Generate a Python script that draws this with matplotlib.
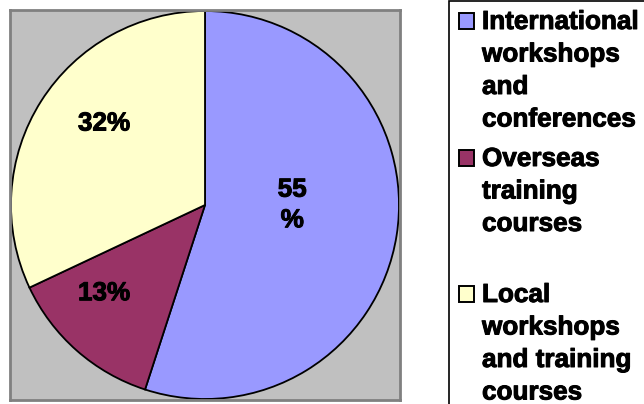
import matplotlib
matplotlib.use("Agg")
import matplotlib.pyplot as plt
import matplotlib.patches as mpatches
import matplotlib.patheffects as pe

# data
categories = ["International workshops and conferences",
              "Overseas training courses",
              "Local workshops and training courses"]
legend_lines = [["International", "workshops", "and", "conferences"],
                ["Overseas", "training", "courses"],
                ["Local", "workshops", "and training", "courses"]]
shares = [55, 13, 32]
pct_labels = ["55\n%", "13%", "32%"]
colors = ["#9999FF", "#993366", "#FFFFCC"]

# label positions inside the pie (fraction of radius), as Excel placed them
label_pos = [(0.45, 0.0), (-0.52, -0.455), (-0.52, 0.42)]

W, H = 644, 404
FONT = "Liberation Sans"
FS = 18.8
heavy = [pe.withStroke(linewidth=0.7, foreground="black")]

fig = plt.figure(figsize=(W / 100, H / 100), dpi=100, facecolor="white")

# plot area: pixels 10..400 in both directions
ax = fig.add_axes([10 / W, (H - 400) / H, 390 / W, 390 / H])
ax.pie(shares, colors=colors, startangle=90, counterclock=False,
       radius=1.0, wedgeprops=dict(edgecolor="black", linewidth=1.3))
ax.set_frame_on(True)
ax.set_facecolor("#C0C0C0")
lim = 195 / 194
ax.set_xlim(-lim, lim)
ax.set_ylim(-lim, lim)
ax.set_aspect("auto")
ax.set_xticks([])
ax.set_yticks([])
for s in ax.spines.values():
    s.set_color("#808080")
    s.set_linewidth(2)
    s.set_visible(True)

for (x, y), txt in zip(label_pos, pct_labels):
    ax.text(x, y, txt, ha="center", va="center", fontsize=FS,
            fontweight="bold", family=FONT, linespacing=1.35,
            path_effects=heavy)

# legend drawn in pixel coordinates
lax = fig.add_axes([0, 0, 1, 1])
lax.set_xlim(0, W)
lax.set_ylim(H, 0)
lax.axis("off")
lax.add_patch(mpatches.Rectangle((449, 1), 400, 500, facecolor="white",
                                 edgecolor="black", linewidth=1.2))

entry_base = [29, 166, 302]
line_step = 32.5
for base, lines, col in zip(entry_base, legend_lines, colors):
    lax.add_patch(mpatches.Rectangle((459.5, base - 16), 15, 15.5, facecolor=col,
                                     edgecolor="black", linewidth=1.4))
    for i, line in enumerate(lines):
        lax.text(482, base + i * line_step, line, ha="left", va="baseline",
                 fontsize=FS, fontweight="bold", family=FONT,
                 path_effects=heavy)

fig.savefig("out.png", dpi=100, facecolor="white")
